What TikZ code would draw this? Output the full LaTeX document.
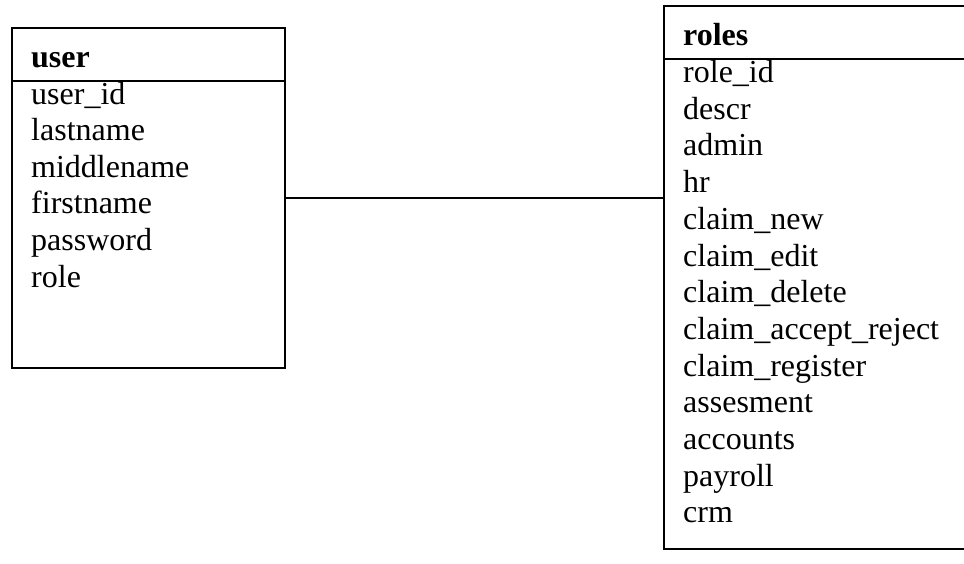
\documentclass[tikz,border=0pt]{standalone}
\usepackage{fontspec}
\setmainfont{Liberation Serif}
\begin{document}
\begin{tikzpicture}[x=1pt,y=-1pt,
  tablebox/.style={draw=black,line width=2pt,inner sep=0pt,anchor=north west},
  sepline/.style={line width=1.4pt},
  link/.style={line width=1.4pt},
  title/.style={font=\fontsize{32}{36}\selectfont\bfseries,anchor=base west,inner sep=0pt},
  field/.style={font=\fontsize{32}{36}\selectfont,anchor=base west,inner sep=0pt}]
\useasboundingbox (0,0) rectangle (964,563);
\clip (0,0) rectangle (964,563);
% user table
\node[tablebox,minimum width=273pt,minimum height=340pt] (user) at (11,27) {};
\draw[sepline] (11,81) -- (284,81);
\node[title] (usertitle) at (31,67) {user};
\foreach \t [count=\i from 0] in {user\_id,lastname,middlename,firstname,password,role}
  \node[field] (uf\i) at (31,{104+36.6*\i}) {\t};
% roles table
\node[tablebox,minimum width=340pt,minimum height=543pt] (roles) at (663,5) {};
\draw[sepline] (663,59) -- (970,59);
\node[title] (rolestitle) at (683,45.5) {roles};
\foreach \t [count=\i from 0] in {role\_id,descr,admin,hr,claim\_new,claim\_edit,claim\_delete,claim\_accept\_reject,claim\_register,assesment,accounts,payroll,crm}
  \node[field] (rf\i) at (683,{82.5+36.7*\i}) {\t};
% connector
\draw[link] (user.east) -- (user.east -| roles.west);
\end{tikzpicture}
\end{document}
